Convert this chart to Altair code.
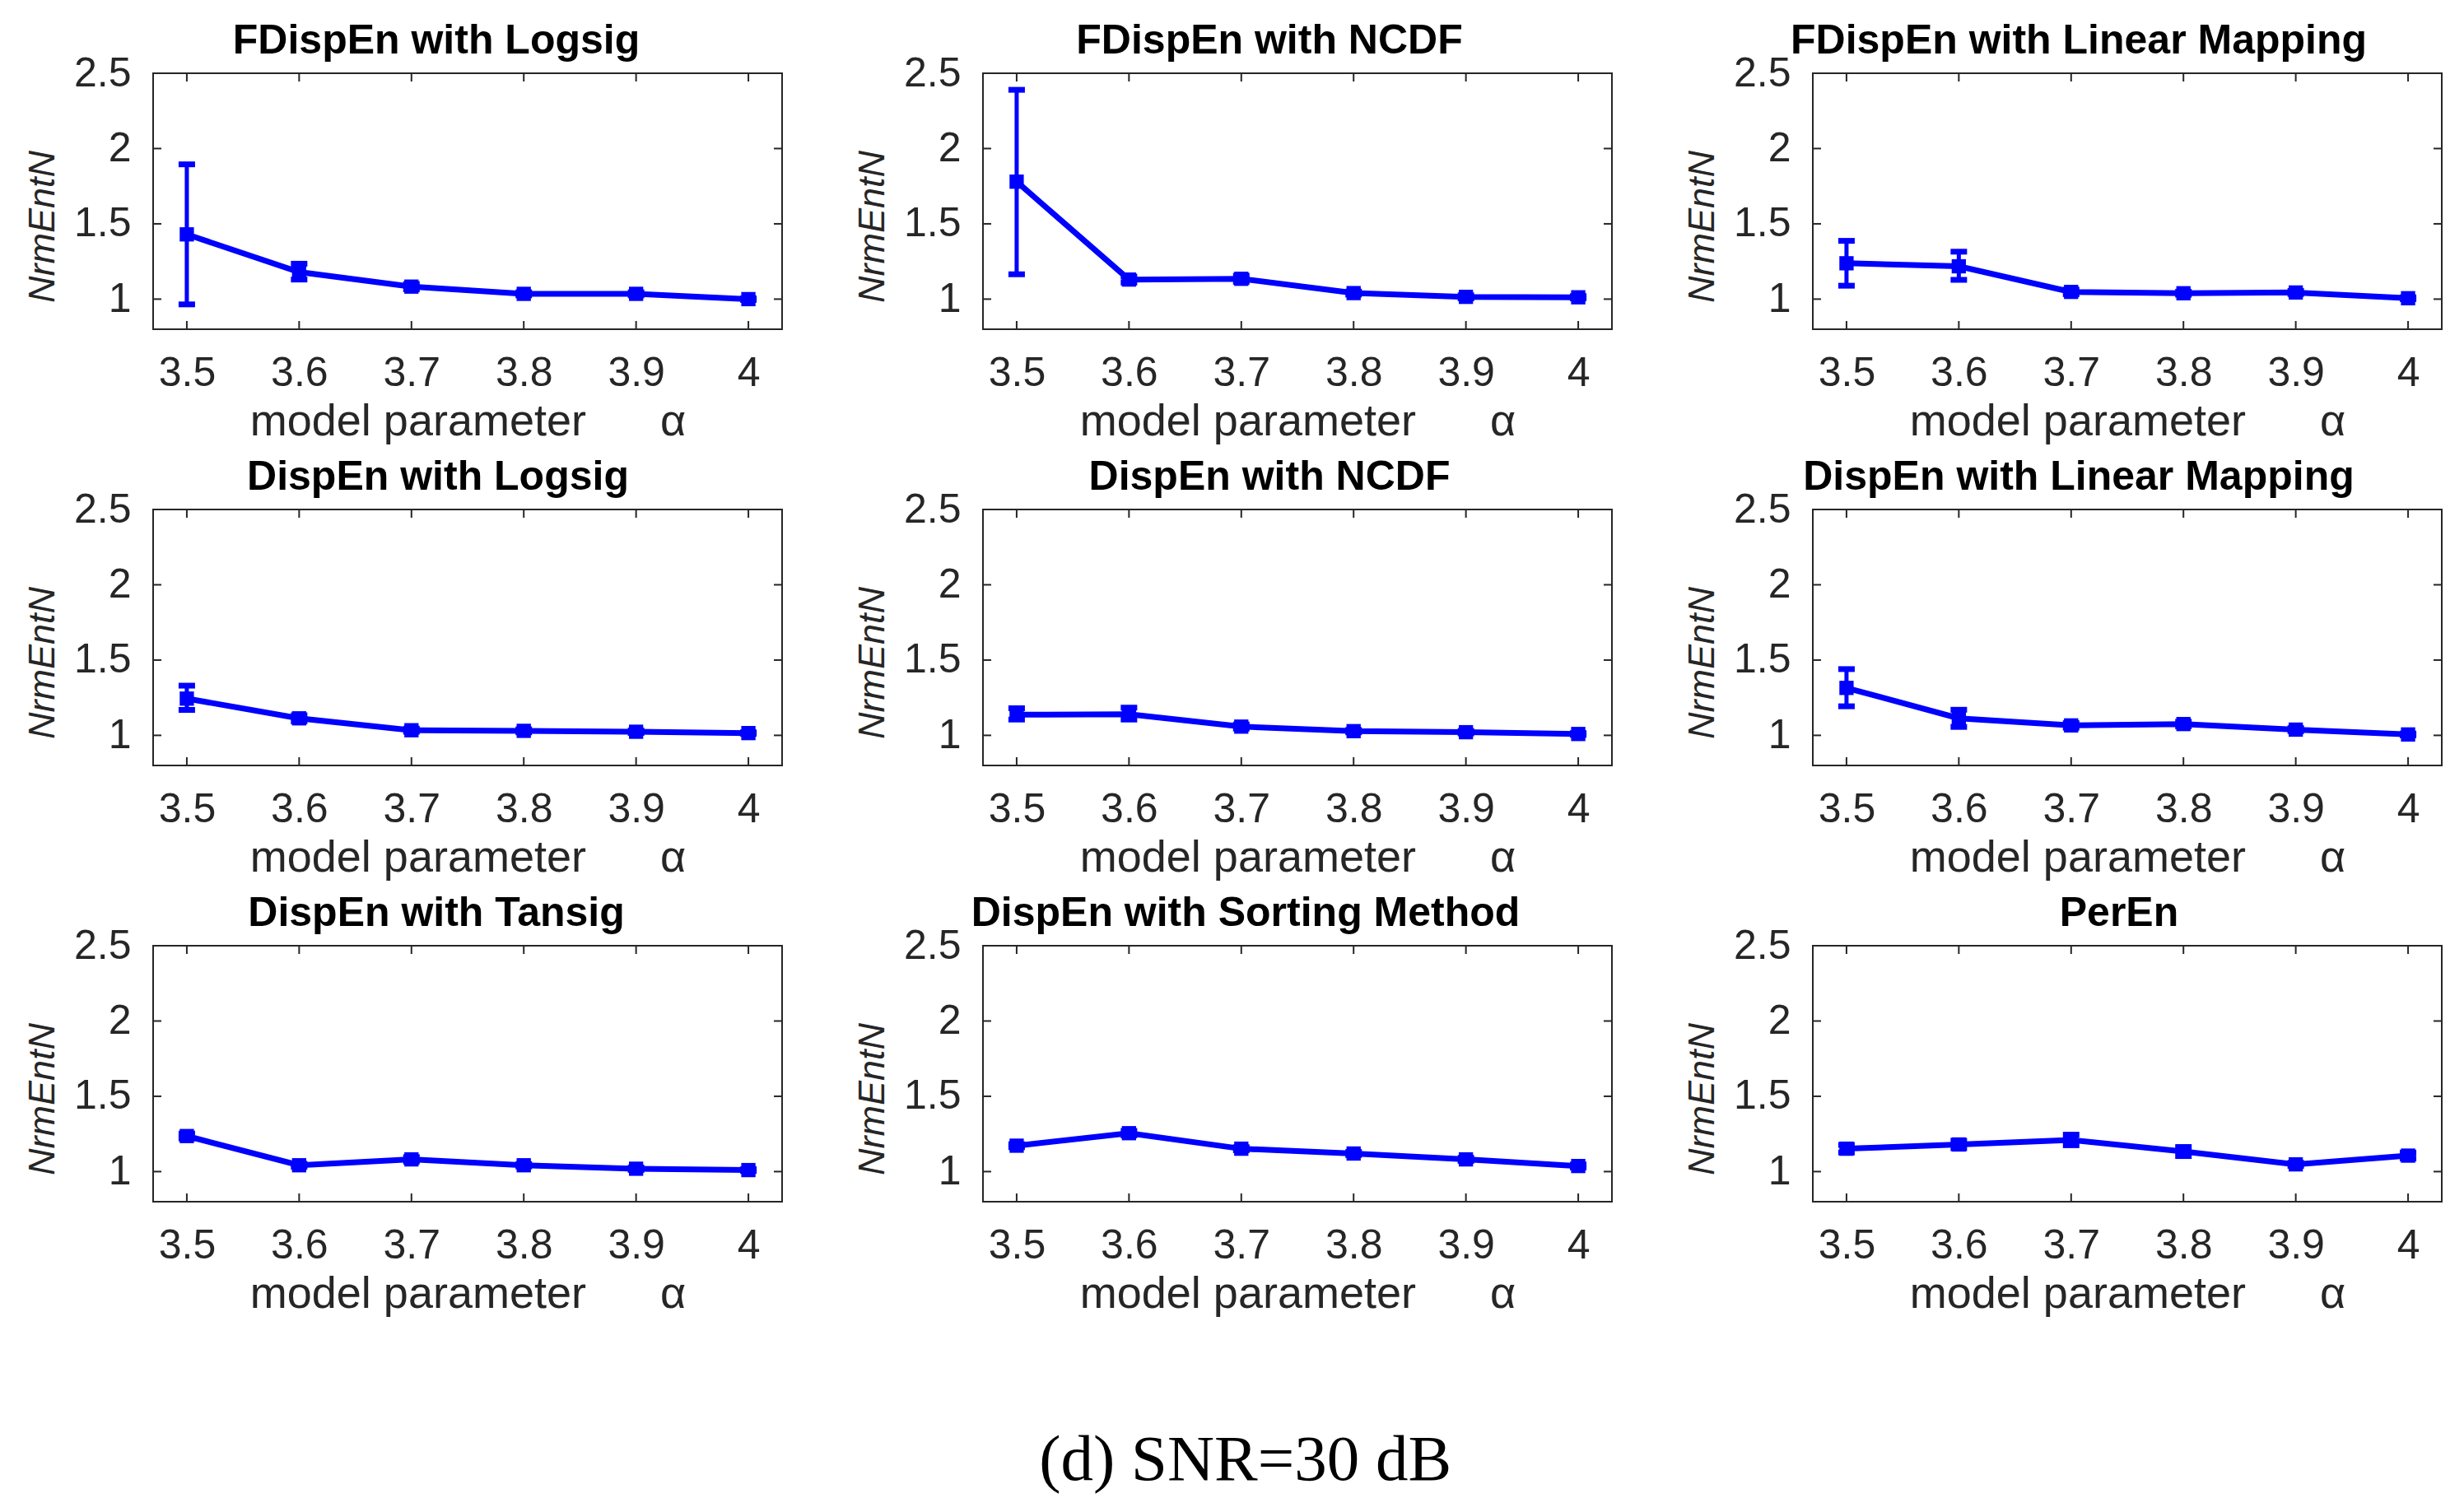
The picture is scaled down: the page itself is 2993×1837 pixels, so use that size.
import altair as alt
import pandas as pd

# ---- data ----
alphas = [3.5, 3.6, 3.7, 3.8, 3.9, 4.0]
x_ticks = [3.5, 3.6, 3.7, 3.8, 3.9, 4.0]
y_ticks = [1.0, 1.5, 2.0, 2.5]

titles = [
    "FDispEn with Logsig", "FDispEn with NCDF", "FDispEn with Linear Mapping",
    "DispEn with Logsig", "DispEn with NCDF", "DispEn with Linear Mapping",
    "DispEn with Tansig", "DispEn with Sorting Method", "PerEn",
]

mean_fd_logsig = [1.43, 1.18, 1.083, 1.035, 1.035, 1.0]
lo_fd_logsig = [0.965, 1.13, 1.065, 1.025, 1.025, 0.995]
hi_fd_logsig = [1.895, 1.235, 1.10, 1.045, 1.045, 1.005]

mean_fd_ncdf = [1.78, 1.13, 1.135, 1.04, 1.015, 1.012]
lo_fd_ncdf = [1.165, 1.11, 1.115, 1.03, 1.005, 1.005]
hi_fd_ncdf = [2.39, 1.15, 1.155, 1.05, 1.025, 1.02]

mean_fd_linear = [1.238, 1.218, 1.048, 1.039, 1.044, 1.006]
lo_fd_linear = [1.089, 1.128, 1.033, 1.029, 1.034, 1.0]
hi_fd_linear = [1.387, 1.315, 1.063, 1.049, 1.054, 1.012]

mean_d_logsig = [1.244, 1.113, 1.034, 1.030, 1.024, 1.015]
lo_d_logsig = [1.169, 1.093, 1.024, 1.02, 1.016, 1.01]
hi_d_logsig = [1.33, 1.133, 1.044, 1.04, 1.032, 1.02]

mean_d_ncdf = [1.137, 1.14, 1.058, 1.028, 1.021, 1.009]
lo_d_ncdf = [1.105, 1.105, 1.045, 1.02, 1.013, 1.003]
hi_d_ncdf = [1.18, 1.184, 1.072, 1.036, 1.029, 1.015]

mean_d_linear = [1.315, 1.113, 1.066, 1.075, 1.038, 1.006]
lo_d_linear = [1.193, 1.056, 1.051, 1.06, 1.028, 1.0]
hi_d_linear = [1.44, 1.17, 1.081, 1.09, 1.048, 1.012]

mean_d_tansig = [1.236, 1.042, 1.081, 1.042, 1.019, 1.01]
lo_d_tansig = [1.22, 1.032, 1.066, 1.034, 1.011, 1.004]
hi_d_tansig = [1.252, 1.052, 1.096, 1.05, 1.027, 1.016]

mean_d_sort = [1.172, 1.255, 1.152, 1.12, 1.081, 1.037]
lo_d_sort = [1.162, 1.24, 1.142, 1.11, 1.071, 1.027]
hi_d_sort = [1.182, 1.27, 1.162, 1.13, 1.091, 1.047]

mean_peren = [1.152, 1.18, 1.21, 1.133, 1.048, 1.106]
lo_peren = [1.127, 1.155, 1.175, 1.103, 1.038, 1.086]
hi_peren = [1.177, 1.205, 1.245, 1.163, 1.058, 1.126]

series = [
    (mean_fd_logsig, lo_fd_logsig, hi_fd_logsig),
    (mean_fd_ncdf, lo_fd_ncdf, hi_fd_ncdf),
    (mean_fd_linear, lo_fd_linear, hi_fd_linear),
    (mean_d_logsig, lo_d_logsig, hi_d_logsig),
    (mean_d_ncdf, lo_d_ncdf, hi_d_ncdf),
    (mean_d_linear, lo_d_linear, hi_d_linear),
    (mean_d_tansig, lo_d_tansig, hi_d_tansig),
    (mean_d_sort, lo_d_sort, hi_d_sort),
    (mean_peren, lo_peren, hi_peren),
]
title_dx = [-38, -34, -59, -36, -34, -59, -38, -63, -10]

X_DOMAIN = [3.47, 4.03]
Y_DOMAIN = [0.8, 2.5]
BLUE = "#0000FF"
AX = "#262626"
W, H = 764, 311
X_TITLE = "model parameter" + "\u00a0" * 6 + "\u03b1"
Y_TITLE = "NrmEntN"


def panel(title, mean, lo, hi, dx):
    df = pd.DataFrame({"alpha": alphas, "mean": mean, "lo": lo, "hi": hi})
    xs = alt.Scale(domain=X_DOMAIN, nice=False, zero=False)
    ys = alt.Scale(domain=Y_DOMAIN, nice=False, zero=False)
    x_axis = alt.Axis(values=x_ticks, format=".1~f", labelPadding=28, titlePadding=7,
                      titleFontSize=54)
    y_axis = alt.Axis(values=y_ticks, format="~g",
                      labelPadding=27, titlePadding=15, titleFontStyle="italic",
                      titleFontSize=45, titleY=186)

    def X(f):
        return alt.X(f, type="quantitative", scale=xs, axis=x_axis, title=X_TITLE)

    def Y(f):
        return alt.Y(f, type="quantitative", scale=ys, axis=y_axis, title=Y_TITLE)

    base = alt.Chart(df)
    line = base.mark_line(color=BLUE, strokeWidth=7).encode(x=X("alpha"), y=Y("mean"))
    bars = base.mark_rule(color=BLUE, strokeWidth=5).encode(x=X("alpha"), y=Y("lo"), y2="hi:Q")
    cap_lo = base.mark_tick(orient="horizontal", color=BLUE, size=20, thickness=7, opacity=1).encode(
        x=X("alpha"), y=Y("lo"))
    cap_hi = base.mark_tick(orient="horizontal", color=BLUE, size=20, thickness=7, opacity=1).encode(
        x=X("alpha"), y=Y("hi"))
    pts = base.mark_square(color=BLUE, size=300, opacity=1).encode(x=X("alpha"), y=Y("mean"))

    # inward frame ticks (clipped half-ticks at the box edges)
    xt = pd.DataFrame({"x": x_ticks * 2,
                       "y": [Y_DOMAIN[0]] * len(x_ticks) + [Y_DOMAIN[1]] * len(x_ticks)})
    yt = pd.DataFrame({"x": [X_DOMAIN[0]] * len(y_ticks) + [X_DOMAIN[1]] * len(y_ticks),
                       "y": y_ticks * 2})
    xtick = alt.Chart(xt).mark_tick(orient="vertical", color=AX, size=20, thickness=2,
                                    clip=True, opacity=1).encode(x=X("x"), y=Y("y"))
    ytick = alt.Chart(yt).mark_tick(orient="horizontal", color=AX, size=20, thickness=2,
                                    clip=True, opacity=1).encode(x=X("x"), y=Y("y"))

    return alt.layer(line, bars, cap_lo, cap_hi, pts, xtick, ytick).properties(
        width=W, height=H,
        title=alt.TitleParams(title, dx=dx, offset=-11, anchor="middle", frame="group"),
    )


panels = [panel(t, m, l, h, d) for t, (m, l, h), d in zip(titles, series, title_dx)]

chart = alt.concat(*panels, columns=3, spacing={"row": 219, "column": 244}, bounds="flush").properties(
    title=alt.TitleParams("(d) SNR=30 dB", orient="bottom", anchor="middle", fontSize=79,
                          font="Liberation Serif", fontWeight="normal", color="black",
                          offset=136, dx=15),
    padding={"left": 20, "top": 16, "right": 5, "bottom": 5},
).configure_view(
    stroke=AX, strokeWidth=2
).configure_axis(
    grid=False, domain=False, ticks=False,
    labelFont="Liberation Sans", labelFontSize=50, labelColor=AX,
    titleFont="Liberation Sans", titleFontSize=50, titleFontWeight="normal", titleColor=AX,
).configure_title(
    font="Liberation Sans", fontSize=50, fontWeight="bold", color="black"
)

chart.save("out.html", embed_options={"renderer": "svg", "actions": False})
